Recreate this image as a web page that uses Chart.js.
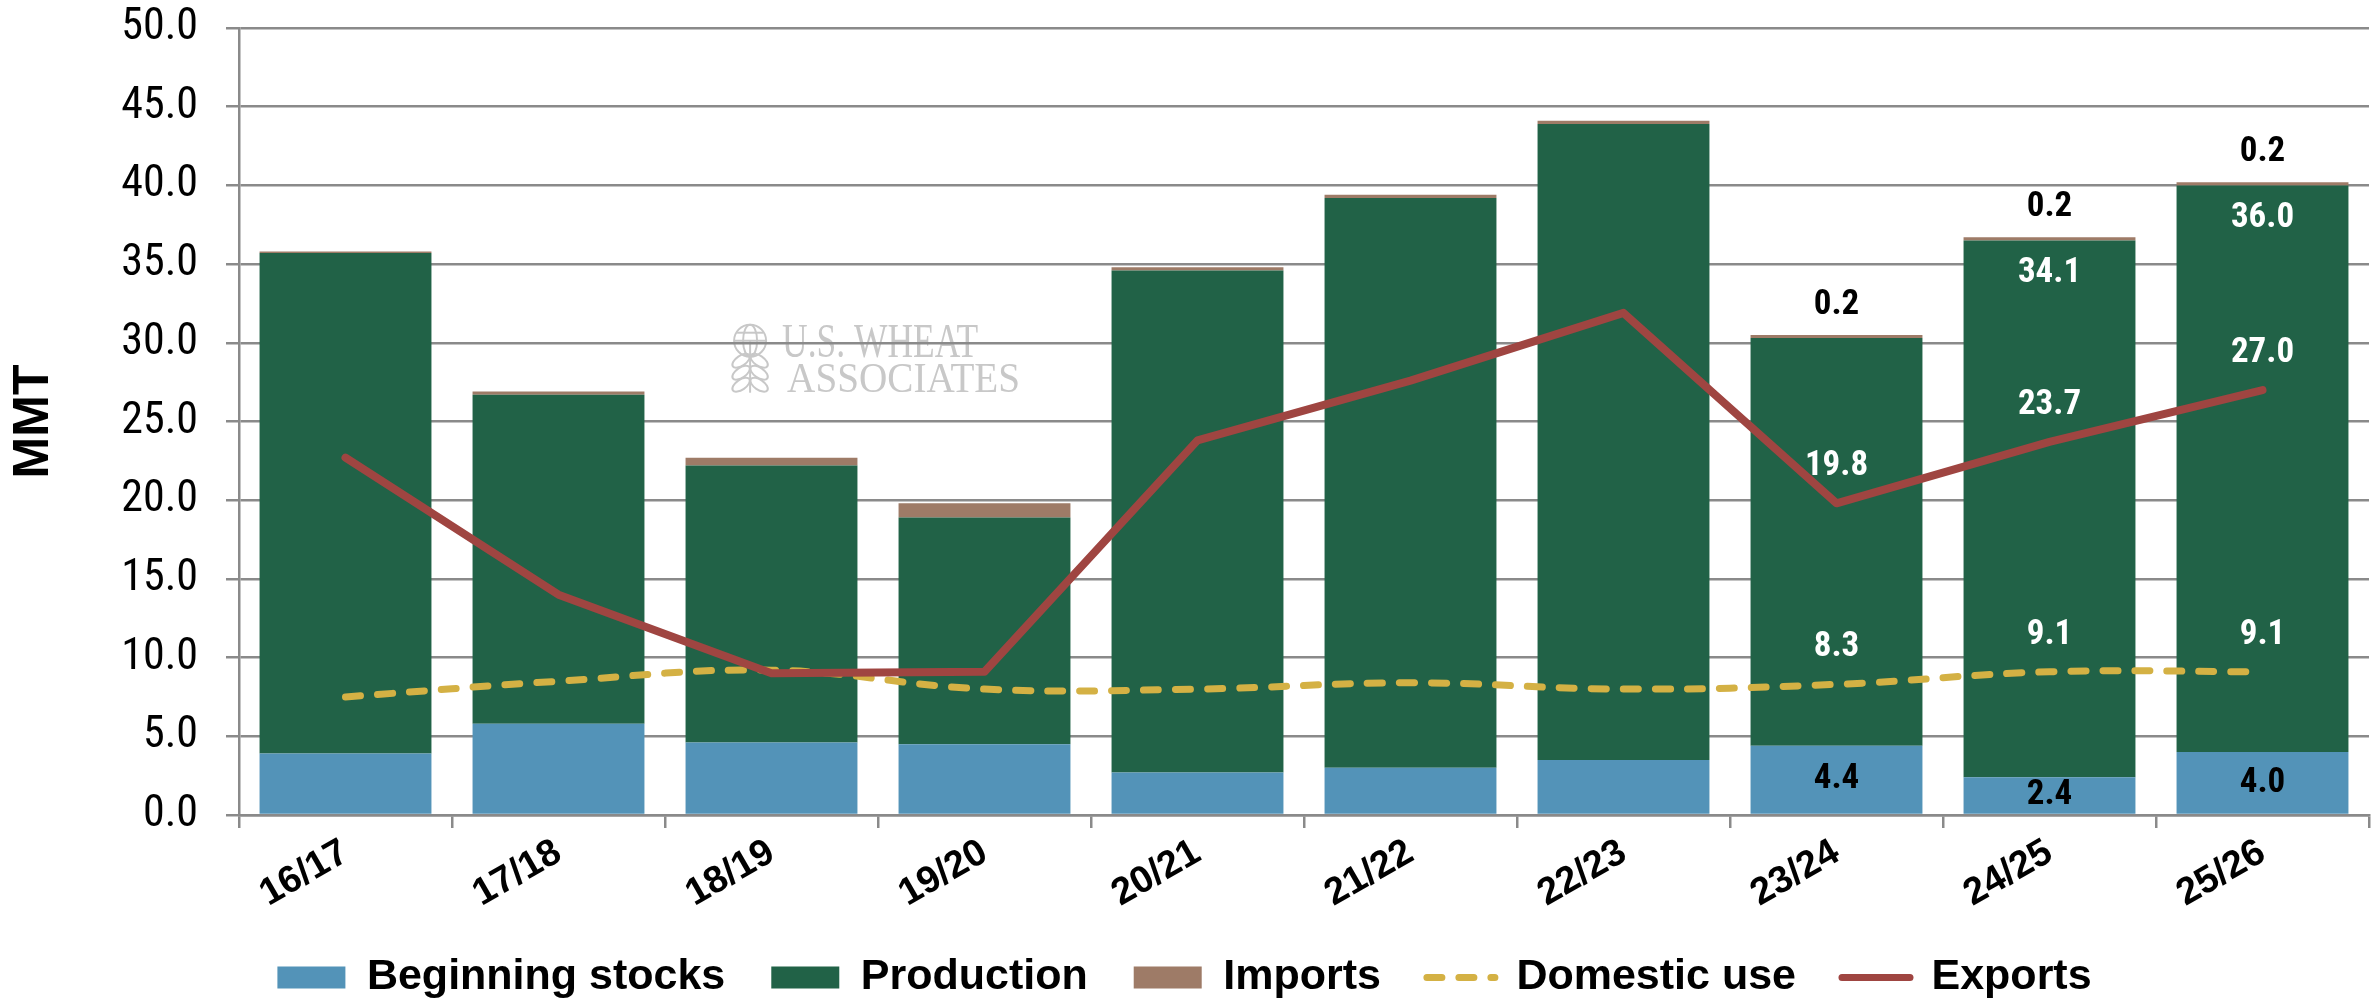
<!DOCTYPE html>
<html>
<head>
<meta charset="utf-8">
<script src="https://cdn.jsdelivr.net/npm/chart.js@4.4.1/dist/chart.umd.min.js"></script>
<style>
  html, body { margin: 0; padding: 0; background: #fff; }
  #wrap { width: 2374px; height: 1002px; }
</style>
</head>
<body>
<div id="wrap"><canvas id="wheatChart" width="2374" height="1002"></canvas></div>
<script>
// marketing years
const years = ['16/17', '17/18', '18/19', '19/20', '20/21', '21/22', '22/23', '23/24', '24/25', '25/26'];

// MMT
const beginningStocks = [3.9, 5.8, 4.6, 4.5, 2.7, 3.0, 3.5, 4.4, 2.4, 4.0];
const production      = [31.8, 20.9, 17.6, 14.4, 31.9, 36.2, 40.4, 25.9, 34.1, 36.0];
const imports         = [0.1, 0.2, 0.5, 0.9, 0.2, 0.2, 0.2, 0.2, 0.2, 0.2];
const domesticUse     = [7.5, 8.5, 9.2, 8.0, 8.0, 8.4, 8.0, 8.3, 9.1, 9.1];
const exportsData     = [22.7, 14.0, 9.0, 9.1, 23.8, 27.6, 31.9, 19.8, 23.7, 27.0];

// y axis ticks
const yMin = 0;
const yMax = 50;
const yStep = 5;

const GRID = '#8a8a8a';
const NARROW = '"Liberation Sans Narrow", "Roboto Condensed", "DejaVu Sans Condensed", "Liberation Sans", sans-serif';

Chart.defaults.font.family = '"Liberation Sans", Arial, sans-serif';
Chart.defaults.color = '#000';

// value labels for the last three years
const valueLabels = {
    id: 'valueLabels',
    afterDatasetsDraw(chart) {
        const ctx = chart.ctx;
        ctx.save();
        ctx.font = 'bold 35px ' + NARROW;
        ctx.textAlign = 'center';
        ctx.textBaseline = 'middle';
        chart.data.datasets.forEach((ds, i) => {
            if (!ds.labelAt) return;
            const meta = chart.getDatasetMeta(i);
            ds.labelAt.forEach(idx => {
                const el = meta.data[idx];
                let y;
                if (ds.labelPos === 'center') y = (el.y + el.base) / 2;
                else if (ds.labelPos === 'above') y = el.y - 30;
                else if (ds.labelPos === 'insideTop') y = el.y + 33;
                else y = el.y - 37;
                ctx.fillStyle = ds.labelColor;
                ctx.fillText(ds.data[idx].toFixed(1), el.x, y);
            });
        });
        ctx.restore();
    }
};

// let rotated x labels run past the axis box instead of being clipped
const noLabelClip = {
    id: 'noLabelClip',
    afterLayout(chart) {
        chart.scales.x.bottom = chart.height;
    }
};

// faint logo behind the grid
const watermark = {
    id: 'watermark',
    beforeDraw(chart) {
        const {ctx, chartArea: a} = chart;
        if (!a) return;
        const w = a.right - a.left, h = a.bottom - a.top;
        const x0 = a.left + w * 0.2315;
        const y0 = a.top + h * 0.377;
        ctx.save();
        ctx.strokeStyle = '#c8c8c8';
        ctx.fillStyle = '#c8c8c8';
        ctx.lineWidth = 2;
        // globe
        const cx = x0 + 18, cy = y0 + 16;
        ctx.beginPath(); ctx.arc(cx, cy, 16, 0, Math.PI * 2); ctx.stroke();
        ctx.beginPath(); ctx.ellipse(cx, cy, 7, 16, 0, 0, Math.PI * 2); ctx.stroke();
        ctx.beginPath(); ctx.moveTo(cx - 16, cy); ctx.lineTo(cx + 16, cy); ctx.stroke();
        ctx.beginPath(); ctx.moveTo(cx - 13, cy - 8); ctx.lineTo(cx + 13, cy - 8); ctx.stroke();
        // wheat leaves
        ctx.beginPath(); ctx.moveTo(cx, cy); ctx.lineTo(cx, cy + 52); ctx.stroke();
        [24, 36, 48].forEach(d => {
            ctx.beginPath(); ctx.ellipse(cx - 9, cy + d - 4, 10, 5, -0.6, 0, Math.PI * 2); ctx.stroke();
            ctx.beginPath(); ctx.ellipse(cx + 9, cy + d - 4, 10, 5, 0.6, 0, Math.PI * 2); ctx.stroke();
        });
        // text
        ctx.textBaseline = 'alphabetic';
        ctx.textAlign = 'left';
        const line = (txt, size, x, y, width) => {
            ctx.font = size + 'px "Liberation Serif", "DejaVu Serif", serif';
            const m = ctx.measureText(txt).width;
            ctx.save();
            ctx.translate(x, y);
            ctx.scale(width / m, 1);
            ctx.fillText(txt, 0, 0);
            ctx.restore();
        };
        line('U.S. WHEAT', 48, x0 + 50, y0 + 32, 196);
        line('ASSOCIATES', 42, x0 + 55, y0 + 67, 233);
        ctx.restore();
    }
};

new Chart(document.getElementById('wheatChart'), {
    data: {
        labels: years,
        datasets: [
            {
                type: 'bar', label: 'Beginning stocks', data: beginningStocks,
                backgroundColor: '#5393b8', stack: 'supply', order: 2,
                labelAt: [7, 8, 9], labelPos: 'center', labelColor: '#000'
            },
            {
                type: 'bar', label: 'Production', data: production,
                backgroundColor: '#216247', stack: 'supply', order: 2,
                labelAt: [8, 9], labelPos: 'insideTop', labelColor: '#fff'
            },
            {
                type: 'bar', label: 'Imports', data: imports,
                backgroundColor: '#9e7b67', stack: 'supply', order: 2,
                labelAt: [7, 8, 9], labelPos: 'above', labelColor: '#000'
            },
            {
                type: 'line', label: 'Domestic use', data: domesticUse,
                borderColor: '#d4b144', backgroundColor: '#d4b144',
                borderWidth: 7, borderDash: [15, 17], borderCapStyle: 'round',
                tension: 0.4, pointRadius: 0, stack: 'dom', order: 1,
                labelAt: [7, 8, 9], labelPos: 'line', labelColor: '#fff'
            },
            {
                type: 'line', label: 'Exports', data: exportsData,
                borderColor: '#9f4541', backgroundColor: '#9f4541',
                borderWidth: 8, borderCapStyle: 'round', borderJoinStyle: 'round',
                tension: 0, pointRadius: 0, stack: 'exp', order: 0,
                labelAt: [7, 8, 9], labelPos: 'line', labelColor: '#fff'
            }
        ]
    },
    options: {
        responsive: false,
        animation: false,
        devicePixelRatio: 1,
        layout: { padding: { left: 0, right: 5, top: 28, bottom: 0 } },
        datasets: { bar: { categoryPercentage: 1, barPercentage: 0.807 } },
        plugins: {
            tooltip: { enabled: false },
            legend: {
                position: 'bottom',
                maxHeight: 92,
                labels: {
                    usePointStyle: true,
                    pointStyleWidth: 68,
                    boxHeight: 22,
                    padding: 46,
                    color: '#000',
                    font: { size: 43, weight: 'bold' },
                    generateLabels(chart) {
                        return chart.data.datasets.map((ds, i) => ({
                            text: ds.label,
                            fillStyle: ds.backgroundColor,
                            strokeStyle: ds.borderColor || ds.backgroundColor,
                            lineWidth: ds.type === 'line' ? 7 : 0,
                            lineDash: ds.borderDash || [],
                            lineCap: 'round',
                            pointStyle: ds.type === 'line' ? 'line' : 'rect',
                            fontColor: '#000',
                            hidden: false,
                            datasetIndex: i
                        }));
                    }
                }
            }
        },
        scales: {
            x: {
                stacked: true,
                offset: true,
                afterFit(scale) { scale.height = 95; },
                grid: {
                    offset: true, drawOnChartArea: false, drawTicks: true,
                    tickLength: 13, color: GRID, lineWidth: 2.5
                },
                border: { display: true, color: GRID, width: 2.5 },
                ticks: {
                    maxRotation: 30, minRotation: 30, padding: 2,
                    font: { size: 38, weight: 'bold' }, color: '#000'
                }
            },
            y: {
                stacked: true,
                min: yMin, max: yMax,
                afterFit(scale) {
                    scale.width = 239;
                    scale.paddingTop = 0;
                    scale.paddingBottom = 0;
                },
                grid: { color: GRID, lineWidth: 2.5, tickLength: 13 },
                border: { display: true, color: GRID, width: 2.5 },
                ticks: {
                    stepSize: yStep, padding: 28, color: '#000',
                    font: { size: 44, family: NARROW },
                    callback: v => v.toFixed(1)
                },
                title: {
                    display: true, text: 'MMT', color: '#000',
                    font: { size: 50, weight: 'bold' },
                    padding: { top: 4, bottom: 0 }
                }
            }
        }
    },
    plugins: [watermark, noLabelClip, valueLabels]
});
</script>
</body>
</html>
